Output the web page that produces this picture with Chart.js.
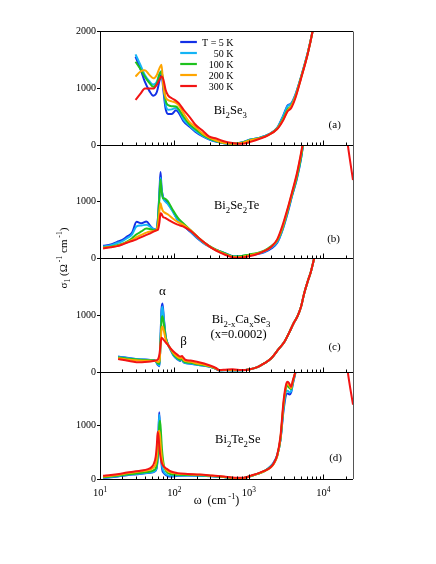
<!DOCTYPE html>
<html lang="en">
<head>
<meta charset="UTF-8"/>
<title>Optical conductivity</title>
<script src="https://cdn.jsdelivr.net/npm/chart.js@4.4.0/dist/chart.umd.min.js"></script>
<style>
  html, body { margin: 0; padding: 0; background: #fff; }
  #wrap { width: 436px; height: 564px; }
</style>
</head>
<body>
<div id="wrap"><canvas id="chart" width="436" height="564"></canvas></div>

<script>
// temperatures / colours
const temps = ['T = 5 K', '50 K', '100 K', '200 K', '300 K'];
const colors = ['#1330e6', '#14b4f5', '#1ec21e', '#ffa500', '#f21414'];

// (a) Bi2Se3
const xa = [30, 35, 40, 46, 52, 58, 63, 67, 71, 76, 82, 92, 105, 115, 132, 160, 190, 240, 290, 370, 460, 600, 800, 1050, 1400, 1800, 2400, 2900, 3300, 3700, 4200, 5000, 6200, 7200, 8000];
const a5   = [1550, 1330, 1110, 950, 865, 930, 1130, 1240, 960, 640, 545, 545, 610, 560, 420, 320, 235, 150, 100, 55, 30, 20, 45, 95, 130, 180, 300, 520, 690, 730, 880, 1190, 1630, 2010, 2350];
const a50  = [1590, 1400, 1230, 1120, 1060, 1110, 1250, 1300, 1050, 720, 620, 625, 650, 600, 450, 340, 250, 160, 105, 60, 32, 22, 45, 95, 130, 180, 300, 510, 680, 720, 870, 1190, 1630, 2010, 2350];
const a100 = [1460, 1330, 1200, 1090, 1020, 1080, 1240, 1290, 1080, 780, 700, 680, 675, 620, 500, 360, 280, 175, 115, 65, 35, 22, 40, 90, 125, 175, 290, 470, 620, 690, 850, 1180, 1620, 2010, 2350];
const a200 = [1200, 1290, 1310, 1230, 1170, 1230, 1350, 1410, 1020, 840, 790, 765, 740, 690, 560, 400, 320, 200, 135, 75, 40, 22, 35, 85, 120, 170, 285, 450, 600, 680, 840, 1170, 1620, 2010, 2350];
const a300 = [790, 900, 990, 990, 990, 1060, 1150, 1200, 1150, 970, 870, 820, 775, 730, 620, 490, 360, 250, 150, 110, 65, 35, 20, 55, 110, 170, 280, 440, 590, 650, 820, 1160, 1610, 2010, 2350];

// (b) Bi2Se2Te
const xb = [11, 14, 17, 20, 23, 27, 31, 36, 42, 48, 53, 57, 60, 63, 65, 67, 70, 75, 82, 95, 110, 130, 165, 210, 260, 330, 420, 530, 650, 800, 1000, 1300, 1600, 2000, 2400, 2800, 3300, 3800, 4400, 5000, 5600, 8000, 12000, 17000, 21300, 25000];
const b5   = [215, 240, 285, 320, 380, 450, 640, 615, 645, 560, 510, 500, 700, 1200, 1520, 1250, 1090, 1020, 960, 830, 680, 580, 460, 330, 240, 170, 110, 60, 25, 30, 45, 70, 100, 170, 270, 480, 790, 1100, 1400, 1750, 2200, null, null, null, null, null];
const b50  = [200, 225, 265, 300, 350, 420, 560, 575, 590, 545, 505, 500, 690, 1150, 1420, 1230, 1070, 1000, 950, 820, 680, 590, 470, 340, 245, 170, 110, 60, 25, 35, 55, 80, 110, 185, 285, 490, 810, 1110, 1410, 1760, 2200, null, null, null, null, null];
const b100 = [185, 200, 225, 255, 290, 350, 420, 470, 520, 510, 490, 495, 650, 1100, 1390, 1200, 1060, 1050, 1000, 850, 720, 620, 490, 360, 260, 175, 110, 55, 25, 35, 60, 90, 130, 210, 310, 510, 830, 1130, 1430, 1780, 2200, null, null, null, null, null];
const b200 = [180, 195, 215, 245, 280, 320, 370, 410, 450, 470, 480, 490, 580, 850, 970, 900, 830, 800, 770, 700, 640, 590, 490, 360, 255, 165, 100, 45, 15, 20, 45, 80, 120, 200, 320, 530, 850, 1150, 1470, 1830, 2200, null, null, null, null, null];
const b300 = [170, 190, 210, 240, 270, 300, 330, 370, 410, 440, 470, 490, 500, 640, 790, 780, 730, 710, 680, 630, 590, 560, 480, 360, 260, 160, 90, 35, 5, 10, 30, 70, 120, 200, 330, 560, 870, 1170, 1490, 1850, 2200, 3200, 3700, 3000, 2000, 1380];

// (c) Bi2-xCaxSe3
const xc = [17.5, 22, 27, 33, 40, 48, 55, 60, 63, 65, 67, 69, 72, 76, 80, 88, 97, 110, 120, 126, 132, 140, 165, 200, 250, 300, 360, 400, 480, 600, 800, 1000, 1300, 1600, 2000, 2500, 3000, 3500, 4000, 4500, 5000, 5500, 6200, 6800, 7600, 8500];
const c5   = [270, 255, 238, 225, 218, 212, 200, 120, 100, 600, 1100, 1200, 950, 640, 520, 400, 290, 220, 195, 225, 175, 155, 145, 125, 110, 90, 55, 28, 32, 28, 30, 45, 85, 150, 240, 400, 530, 700, 860, 980, 1140, 1370, 1600, 1760, 2020, 2300];
const c50  = [262, 248, 232, 222, 216, 210, 200, 130, 110, 580, 1050, 1150, 920, 630, 515, 400, 295, 225, 200, 228, 178, 158, 148, 128, 112, 92, 56, 29, 33, 29, 31, 45, 85, 150, 240, 400, 530, 700, 860, 980, 1140, 1370, 1600, 1760, 2020, 2300];
const c100 = [255, 240, 226, 216, 210, 205, 198, 150, 140, 520, 900, 980, 850, 620, 510, 410, 310, 240, 215, 240, 190, 170, 160, 135, 118, 95, 58, 30, 34, 30, 32, 45, 85, 150, 240, 400, 530, 700, 860, 980, 1140, 1370, 1600, 1760, 2020, 2300];
const c200 = [240, 225, 210, 200, 198, 196, 195, 175, 190, 450, 760, 800, 720, 580, 500, 415, 330, 265, 240, 260, 215, 190, 178, 150, 128, 100, 62, 32, 36, 35, 33, 45, 85, 150, 240, 400, 530, 700, 860, 980, 1140, 1370, 1600, 1760, 2020, 2300];
const c300 = [226, 205, 185, 172, 175, 185, 200, 220, 320, 480, 600, 590, 560, 520, 490, 420, 360, 300, 270, 280, 250, 215, 200, 180, 150, 115, 70, 35, 40, 48, 35, 45, 85, 150, 240, 400, 530, 700, 860, 980, 1140, 1370, 1600, 1760, 2020, 2300];

// (d) Bi2Te2Se
const xd = [11, 14, 18, 23, 29, 36, 43, 49, 53, 56, 58, 59.5, 61, 62.5, 64, 66, 68, 72, 79, 90, 110, 150, 220, 320, 460, 650, 850, 1100, 1300, 1600, 1960, 2150, 2400, 2650, 2930, 3190, 3320, 3500, 3690, 3900, 4210, 4600, 8000, 12000, 17000, 21300, 25000];
const d5   = [22, 32, 50, 70, 85, 98, 110, 120, 135, 160, 220, 400, 850, 1250, 900, 420, 200, 110, 65, 45, 60, 65, 60, 50, 35, 15, 20, 60, 95, 145, 240, 310, 450, 720, 1300, 1590, 1600, 1580, 1620, 1780, 1980, 2250, null, null, null, null, null];
const d50  = [28, 38, 58, 78, 92, 103, 115, 125, 140, 165, 230, 420, 850, 1200, 950, 500, 260, 140, 80, 60, 65, 65, 60, 50, 35, 15, 20, 60, 95, 145, 235, 300, 440, 730, 1350, 1650, 1650, 1620, 1640, 1800, 1990, 2250, null, null, null, null, null];
const d100 = [35, 45, 65, 85, 100, 115, 130, 145, 165, 200, 270, 420, 700, 1000, 1090, 850, 550, 260, 130, 90, 80, 75, 70, 55, 35, 15, 20, 62, 95, 145, 225, 285, 430, 740, 1400, 1720, 1740, 1700, 1680, 1820, 2000, 2250, null, null, null, null, null];
const d200 = [45, 60, 80, 105, 125, 145, 160, 185, 220, 280, 400, 600, 850, 900, 800, 560, 380, 240, 160, 120, 100, 90, 80, 60, 40, 20, 20, 65, 95, 145, 215, 280, 430, 760, 1430, 1760, 1790, 1740, 1700, 1830, 2000, 2250, null, null, null, null, null];
const d300 = [60, 75, 95, 120, 140, 160, 180, 220, 290, 420, 640, 880, 800, 620, 470, 360, 290, 230, 190, 140, 110, 95, 85, 65, 45, 25, 25, 70, 100, 150, 220, 290, 450, 790, 1480, 1790, 1820, 1780, 1725, 1850, 2005, 2250, 3800, 4200, 3200, 2000, 1390];

// axis ticks
const xMajor = [10, 100, 1000, 10000];
const xMajorLabels = ['10^{1}', '10^{2}', '10^{3}', '10^{4}'];
const xTitle = 'ω  (cm^{ -1})';
const yTitle = 'σ_{1} (Ω^{ -1} cm^{ -1})';

const panels = [
  { axis: 'ya', x: xa, series: [a5, a50, a100, a200, a300] },
  { axis: 'yb', x: xb, series: [b5, b50, b100, b200, b300] },
  { axis: 'yc', x: xc, series: [c5, c50, c100, c200, c300] },
  { axis: 'yd', x: xd, series: [d5, d50, d100, d200, d300] }
];

// text placed in data coordinates (x in cm-1, y in panel units)
const notes = [
  { axis: 'ya', x: 562,   y: 539,  size: 12.5, text: 'Bi_{2}Se_{3}' },
  { axis: 'ya', x: 14200, y: 293,  size: 11,   text: '(a)' },
  { axis: 'yb', x: 684,   y: 867,  size: 12.5, text: 'Bi_{2}Se_{2}Te' },
  { axis: 'yb', x: 13700, y: 288,  size: 11,   text: '(b)' },
  { axis: 'yc', x: 69,    y: 1351, size: 13,   text: 'α' },
  { axis: 'yc', x: 785,   y: 854,  size: 12.5, text: 'Bi_{2-x}Ca_{x}Se_{3}' },
  { axis: 'yc', x: 726,   y: 591,  size: 12.5, text: '(x=0.0002)' },
  { axis: 'yc', x: 132,   y: 474,  size: 13,   text: 'β' },
  { axis: 'yc', x: 14100, y: 386,  size: 11,   text: '(c)' },
  { axis: 'yd', x: 709,   y: 667,  size: 12.5, text: 'Bi_{2}Te_{2}Se' },
  { axis: 'yd', x: 14600, y: 342,  size: 11,   text: '(d)' }
];
const legendBox = { axis: 'ya', x0: 119.5, x1: 200, xText: 622, y: 1812 };

const FONT = '"Liberation Serif", "Times New Roman", serif';

function parseRich(s) {
  const out = [];
  const re = /([_^])\{([^}]*)\}/g;
  let last = 0, m;
  while ((m = re.exec(s))) {
    if (m.index > last) out.push([s.slice(last, m.index), 'n']);
    out.push([m[2], m[1] === '_' ? 'sub' : 'sup']);
    last = re.lastIndex;
  }
  if (last < s.length) out.push([s.slice(last), 'n']);
  return out;
}

function richText(ctx, s, x, y, size, align) {
  const parts = parseRich(s);
  const fontFor = k => (k === 'n' ? size : size * 0.7) + 'px ' + FONT;
  let total = 0;
  parts.forEach(([t, k]) => { ctx.font = fontFor(k); total += ctx.measureText(t).width; });
  let cx = align === 'center' ? x - total / 2 : align === 'right' ? x - total : x;
  ctx.textAlign = 'left';
  ctx.textBaseline = 'alphabetic';
  parts.forEach(([t, k]) => {
    ctx.font = fontFor(k);
    const dy = k === 'sub' ? size * 0.3 : k === 'sup' ? -size * 0.42 : 0;
    ctx.fillText(t, cx, y + dy);
    cx += ctx.measureText(t).width;
  });
}

const panelPlugin = {
  id: 'panels',
  beforeDatasetDraw(chart, args) {
    // keep each curve inside its own panel
    const s = chart.scales[args.meta.yAxisID];
    const a = chart.chartArea;
    chart.ctx.save();
    chart.ctx.beginPath();
    chart.ctx.rect(a.left, s.top, a.right - a.left, s.bottom - s.top);
    chart.ctx.clip();
  },
  afterDatasetDraw(chart) {
    chart.ctx.restore();
  },
  afterDraw(chart) {
    const ctx = chart.ctx;
    const a = chart.chartArea;
    const x = chart.scales.x;
    ctx.save();
    ctx.strokeStyle = '#000';
    ctx.lineWidth = 1;

    // frame + inward x ticks for every panel
    const minor = [];
    for (let d = 1; d <= 4; d++) {
      for (let m = 1; m <= 9; m++) {
        const v = m * Math.pow(10, d);
        if (v <= x.max) minor.push(v);
      }
    }
    ctx.beginPath();
    ['ya', 'yb', 'yc', 'yd'].forEach(id => {
      const s = chart.scales[id];
      const yb = Math.round(s.bottom) + 0.5;
      ctx.moveTo(a.left, yb);
      ctx.lineTo(a.right, yb);
      minor.forEach(v => {
        const px = Math.round(x.getPixelForValue(v)) + 0.5;
        const len = xMajor.includes(v) ? 5 : 3;
        ctx.moveTo(px, yb);
        ctx.lineTo(px, yb - len);
      });
    });
    const top = Math.round(chart.scales.ya.top) + 0.5;
    ctx.moveTo(a.left, top);
    ctx.lineTo(a.right, top);
    ctx.stroke();
    ctx.strokeStyle = '#555';
    ctx.beginPath();
    ctx.moveTo(Math.round(a.right) + 0.5, top);
    ctx.lineTo(Math.round(a.right) + 0.5, chart.scales.yd.bottom);
    ctx.stroke();

    ctx.fillStyle = '#000';
    // x tick labels
    const base = chart.scales.yd.bottom;
    xMajor.forEach((v, i) => {
      richText(ctx, xMajorLabels[i], x.getPixelForValue(v), base + 17, 10.5, 'center');
    });
    // axis titles
    richText(ctx, xTitle, (a.left + a.right) / 2 - 10, base + 25, 12, 'center');
    ctx.save();
    ctx.translate(67, (a.top + a.bottom) / 2 + 3);
    ctx.rotate(-Math.PI / 2);
    richText(ctx, yTitle, 0, 0, 11, 'center');
    ctx.restore();

    // panel texts
    notes.forEach(n => {
      const s = chart.scales[n.axis];
      richText(ctx, n.text, x.getPixelForValue(n.x), s.getPixelForValue(n.y), n.size, 'center');
    });

    // legend
    const ly = chart.scales[legendBox.axis];
    temps.forEach((t, i) => {
      const py = Math.round(ly.getPixelForValue(legendBox.y)) + i * 11;
      ctx.strokeStyle = colors[i];
      ctx.lineWidth = 2.2;
      ctx.beginPath();
      ctx.moveTo(x.getPixelForValue(legendBox.x0), py);
      ctx.lineTo(x.getPixelForValue(legendBox.x1), py);
      ctx.stroke();
      ctx.fillStyle = '#000';
      richText(ctx, t, x.getPixelForValue(legendBox.xText), py + 3.5, 10, 'right');
    });
    ctx.restore();
  }
};

const datasets = [];
panels.forEach(p => {
  p.series.forEach((ys, i) => {
    datasets.push({
      label: temps[i],
      xAxisID: 'x',
      yAxisID: p.axis,
      order: temps.length - i, // 300 K drawn last, on top
      data: p.x.map((w, j) => ({ x: w, y: ys[j] })),
      borderColor: colors[i],
      backgroundColor: colors[i],
      borderWidth: 2,
      pointRadius: 0,
      fill: false,
      spanGaps: false,
      cubicInterpolationMode: 'monotone'
    });
  });
});

function yAxis(weight, showTop) {
  return {
    type: 'linear',
    position: 'left',
    stack: 'panels',
    stackWeight: weight,
    min: 0,
    max: 2000,
    ticks: {
      stepSize: 1000,
      autoSkip: false,
      padding: 1,
      color: '#000',
      font: { family: FONT, size: 10 },
      callback: v => (v === 2000 && !showTop) ? '' : String(v)
    },
    grid: { drawOnChartArea: false, tickLength: 3, color: '#000', tickColor: '#000' },
    border: { display: true, color: '#000', width: 1 },
    afterFit: s => { s.width = 100; }
  };
}

new Chart(document.getElementById('chart').getContext('2d'), {
  type: 'line',
  data: { datasets },
  options: {
    responsive: false,
    animation: false,
    devicePixelRatio: 1,
    layout: { padding: { top: 31, right: 83, left: 0, bottom: 0 } },
    plugins: { legend: { display: false }, tooltip: { enabled: false } },
    scales: {
      x: {
        type: 'logarithmic',
        position: 'bottom',
        min: 10,
        max: 25000,
        ticks: { display: false },
        grid: { display: false },
        border: { display: false },
        afterFit: s => { s.height = 85; }
      },
      yd: yAxis(107, false),
      yc: yAxis(114, false),
      yb: yAxis(113, false),
      ya: yAxis(114, true)
    }
  },
  plugins: [panelPlugin]
});
</script>
</body>
</html>
